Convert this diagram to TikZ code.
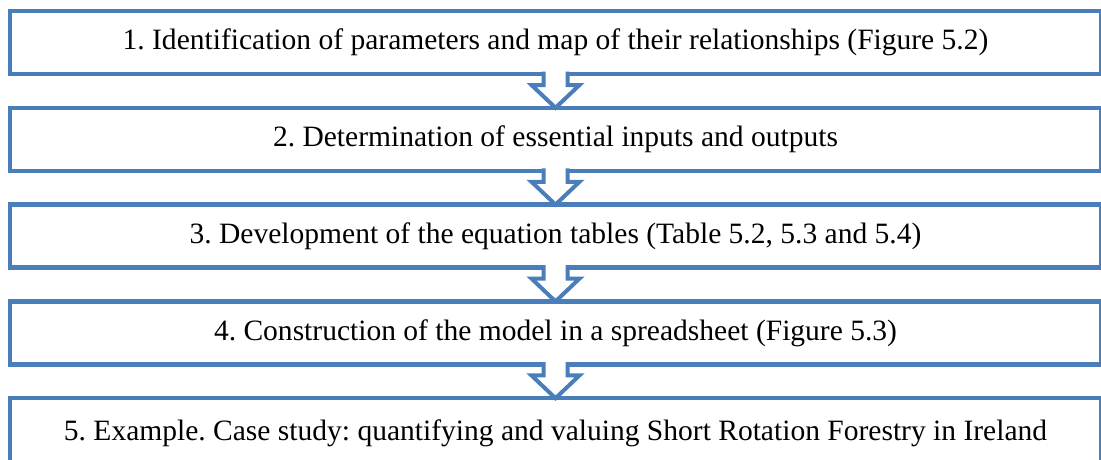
\documentclass[tikz,border=0pt]{standalone}
\usepackage{fontspec}
\setmainfont{Liberation Serif}
\usetikzlibrary{calc,positioning}
\frenchspacing

\definecolor{boxblue}{RGB}{74,126,187}

\tikzset{
  stage/.style={draw=boxblue, line width=0.1125cm, fill=white, rectangle,
    minimum width=27.275cm, minimum height=1.575cm, inner sep=0pt, outer sep=0pt,
    font=\fontsize{21}{25}\selectfont},
  hollow/.style={draw=boxblue, line width=0.1cm, fill=white, line join=miter}
}

\begin{document}
\begin{tikzpicture}
        \useasboundingbox (0,0) rectangle (27.525,-11.475);

        % Steps
        \node[stage] (s1) at (13.8875,-1.0625) {1. Identification of parameters and map of their relationships (Figure 5.2)};
        \node[stage, below=0.845cm of s1] (s2) {2. Determination of essential inputs and outputs};
        \node[stage, below=0.845cm of s2] (s3) {3. Development of the equation tables (Table 5.2, 5.3 and 5.4)};
        \node[stage, below=0.845cm of s3] (s4) {4. Construction of the model in a spreadsheet (Figure 5.3)};
        % last box runs past the lower edge
        \node[stage, minimum height=1.75cm, below=0.845cm of s4] (s5) {5. Example. Case study: quantifying and valuing Short Rotation Forestry in Ireland};

        % Hollow arrows between steps
        \foreach \a/\b in {s1/s2,s2/s3,s3/s4,s4/s5}{
            \filldraw[hollow] ($(\a.south)+(-0.3,0.06)$) -- ($(\a.south)+(-0.3,-0.275)$)
                -- ($(\a.south)+(-0.6,-0.275)$) -- (\b.north)
                -- ($(\a.south)+(0.6,-0.275)$) -- ($(\a.south)+(0.3,-0.275)$)
                -- ($(\a.south)+(0.3,0.06)$);
        }
    \end{tikzpicture}
\end{document}
